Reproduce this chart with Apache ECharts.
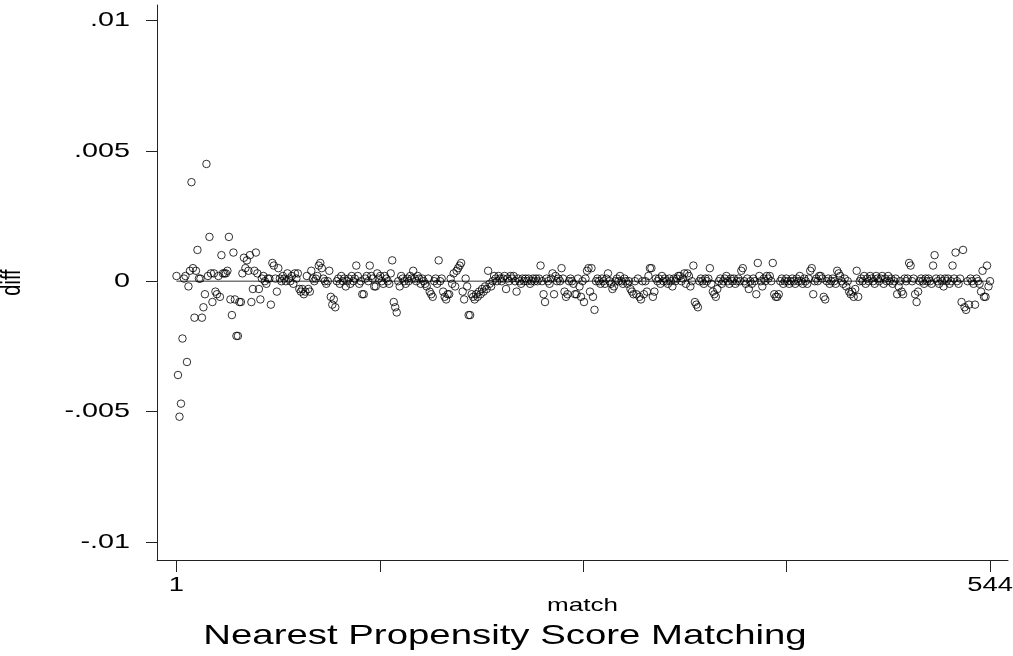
<!DOCTYPE html>
<html>
<head>
<meta charset="utf-8">
<script src="https://cdn.jsdelivr.net/npm/echarts@6/dist/echarts.min.js"></script>
<style>
  html, body { margin: 0; padding: 0; background: #fff; }
  #chart { width: 1013px; height: 656px; }
</style>
</head>
<body>
<div id="chart"></div>
<script>
// diff per match, in units of 1e-4
const diffE4 = [
  2, -36, -52, -47, -22, 1, 2, -31, -2, 4,          // 1
  38, 5, -14, 4, 12, 1, 1, -14, -10, -5,            // 11
  45, 2, 17, 3, -8, 3, -4, -5, 2, -6,               // 21
  10, 3, 3, 3, 4, 17, -7, -13, 11, -7,              // 31
  -21, -21, -8, -8, 3, 9, 5, 8, 4, 10,              // 41
  -8, -3, 4, 11, 3, -3, -7, 1, 2, 0,                // 51
  -1, 1, 1, -9, 7, 6, 1, -4, 5, 1,                  // 61
  0, 2, 1, 0, 3, 1, 0, 2, -1, 3,                    // 71
  1, 3, -3, -4, -3, -5, -4, 2, -3, -4,              // 81
  4, 1, 0, 1, 2, 6, 7, 5, 1, 0,                     // 91
  -1, 0, 4, -6, -9, -7, -10, 0, 1, -1,              // 101
  2, 0, 1, -2, 0, 1, -1, 2, 0, 1,                   // 111
  6, 2, -1, 0, -5, -5, 1, 2, 0, 6,                  // 121
  2, 1, -2, -2, 3, 1, 2, 0, -1, 2,                  // 131
  1, 0, -1, 3, 8, -8, -10, -12, 0, -2,              // 141
  2, 1, 0, -1, 1, 0, 2, 1, 4, 1,                    // 151
  0, 2, 1, -1, 1, 0, -1, -2, 1, -4,                 // 161
  -5, -6, 0, 1, -1, 8, 0, 1, -4, -6,                // 171
  -7, -5, -5, 1, -1, 3, -2, 4, 5, 6,                // 181
  7, -4, -7, 1, -2, -13, -13, -5, -6, -7,           // 191
  -5, -6, -4, -5, -3, -4, -2, -3, 4, -1,            // 201
  -2, 0, 2, 1, 0, 2, 1, 0, 1, 2,                    // 211
  -3, 1, 0, 2, 1, 2, 0, -4, 1, 0,                   // 221
  -1, 1, 0, 1, 0, 1, -1, 0, 1, 0,                   // 231
  1, 0, 1, 6, 0, -5, -8, 1, 0, -1,                  // 241
  1, 3, -5, 2, 0, 1, 0, 5, 1, -4,                   // 251
  -6, -5, 0, 1, 0, -1, -5, -5, 1, -2,               // 261
  -6, 0, -8, 1, 4, 5, -4, 5, -6, -11,               // 271
  0, 1, 0, -1, 1, 0, -1, 1, 3, 0,                   // 281
  -1, -3, -2, 0, 1, 0, 2, 0, -1, 1,                 // 291
  0, -1, 0, -3, -4, -5, 0, -5, 1, -6,               // 301
  -7, 0, -5, 0, -4, 2, 5, 5, -6, -4,                // 311
  1, 0, 1, -1, 2, 0, 1, 0, -1, 1,                   // 321
  0, -2, 1, 0, 1, 2, 2, 0, 1, 3,                    // 331
  -1, 3, 2, -2, 0, 6, -8, -9, -10, 0,               // 341
  1, 0, -1, 1, 0, 1, 5, -1, -4, -5,                 // 351
  -6, -3, 0, 1, -1, 0, 1, 2, 0, -1,                 // 361
  1, 0, 1, -1, 0, 1, 0, 4, 5, 0,                    // 371
  -1, 1, -3, 0, -1, 1, 0, -5, 7, 2,                 // 381
  0, -2, 1, 0, 2, 1, 2, 0, 7, -5,                   // 391
  -6, -6, -5, 0, 1, -1, 0, 1, 0, -1,                // 401
  0, 1, 0, -1, 1, 0, 2, 0, -1, 1,                   // 411
  0, -1, 1, 4, 5, -5, 0, 1, 0, 2,                   // 421
  2, 1, -6, -7, 0, 1, -1, 0, 1, 0,                  // 431
  -1, 4, 3, 2, 0, -1, 1, -2, 0, -4,                 // 441
  -5, -4, -6, -3, 4, -6, 0, 1, 0, 2,                // 451
  -1, 1, 0, 2, 1, 0, -1, 2, 1, 0,                   // 461
  1, 2, -1, 1, 0, 2, 0, 1, -1, 0,                   // 471
  1, -5, -2, 0, -4, -5, 1, 0, 1, 7,                 // 481
  6, 0, 1, -5, -8, -4, 0, 1, 0, -1,                 // 491
  1, 0, 1, 0, -1, 6, 10, 1, 0, -1,                  // 501
  1, 0, -2, 1, 0, 1, -1, 0, 6, 1,                   // 511
  11, 0, -1, 1, -8, 12, -10, -11, 0, -9,            // 521
  1, 0, -1, -9, 1, 0, -1, -4, 4, -6,                // 531
  -6, 6, -2, 0                                      // 541
];

const xTicks = [1, 136.75, 272.5, 408.25, 544];
const xLabels = [1, 544];
const yTicks = [-0.01, -0.005, 0, 0.005, 0.01];
const zeroLine = [[1, 0], [544, 0]];

const points = diffE4.map((v, i) => [i + 1, v / 10000]);

const fmtY = v => v === 0 ? '0' : String(v).replace('0.', '.');

// the original's lettering is a wide sans, so Arial-metric text is stretched sideways
const WIDE = 1.37;
const FONT = '"Liberation Sans", Arial, sans-serif';
const label = (text, x, y, size, align, extra) => Object.assign({
  type: 'text', x: x, y: y, scaleX: WIDE, silent: true,
  style: {
    text: text, font: size + 'px ' + FONT, fill: '#000',
    align: align, textAlign: align, verticalAlign: 'middle', textVerticalAlign: 'middle'
  }
}, extra || {});

const chart = echarts.init(document.getElementById('chart'));
chart.setOption({
  animation: false,
  backgroundColor: '#fff',
  grid: { left: 157, right: 5, top: 5, bottom: 96 },
  xAxis: {
    type: 'value',
    min: -12,
    max: 556,
    axisLine: { onZero: false, lineStyle: { color: '#222', width: 1 } },
    axisTick: { customValues: xTicks, length: 12, lineStyle: { color: '#222' } },
    axisLabel: { show: false },
    splitLine: { show: false }
  },
  yAxis: {
    type: 'value',
    min: -0.0107,
    max: 0.0106,
    axisLine: { onZero: false, lineStyle: { color: '#222', width: 1 } },
    axisTick: { customValues: yTicks, length: 11, lineStyle: { color: '#222' } },
    axisLabel: { show: false },
    splitLine: { show: false }
  },
  series: [
    {
      type: 'line',
      data: zeroLine,
      symbol: 'none',
      lineStyle: { color: '#777', width: 1.5 },
      z: 1
    },
    {
      type: 'scatter',
      data: points,
      symbol: 'circle',
      symbolSize: 7.5,
      itemStyle: { color: 'rgba(0,0,0,0)', borderColor: '#000', borderWidth: 1 },
      z: 2
    }
  ]
});

// tick labels and titles, placed through the axes' own scales
const axisX = chart.convertToPixel({ xAxisIndex: 0 }, -12);
const axisY = chart.convertToPixel({ yAxisIndex: 0 }, -0.0107);
const topY = chart.convertToPixel({ yAxisIndex: 0 }, 0.0106);
const rightX = chart.convertToPixel({ xAxisIndex: 0 }, 556);

const texts = [];
yTicks.forEach(v => {
  texts.push(label(fmtY(v), axisX - 27, chart.convertToPixel({ yAxisIndex: 0 }, v), 21, 'right'));
});
xLabels.forEach(v => {
  texts.push(label(String(v), chart.convertToPixel({ xAxisIndex: 0 }, v), axisY + 25, 20, 'center'));
});
texts.push(label('match', (axisX + rightX) / 2, axisY + 46, 19, 'center'));
texts.push(label('diff', 12, (axisY + topY) / 2, 20, 'center', { scaleX: 1, scaleY: WIDE, rotation: Math.PI / 2 }));
texts.push(label('Nearest Propensity Score Matching', 505, 636, 28, 'center'));

chart.setOption({ graphic: texts });
</script>
</body>
</html>
